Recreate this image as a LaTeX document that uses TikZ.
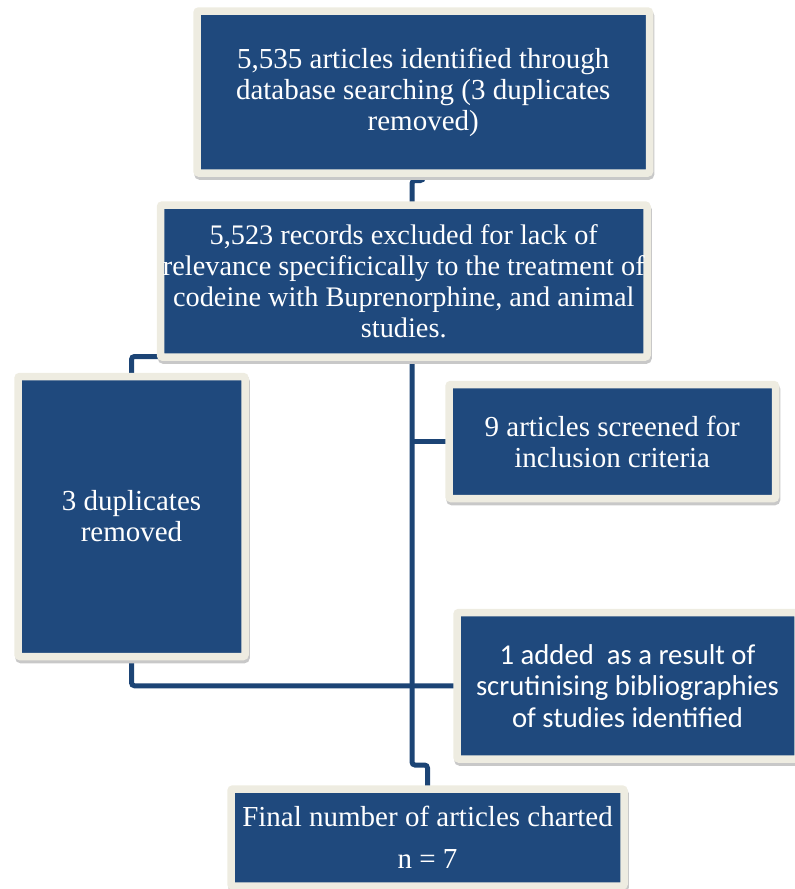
\documentclass[tikz,border=0pt]{standalone}
\usepackage{fontspec}
\setmainfont{Liberation Serif}
\newfontfamily\calib{Carlito}
\usetikzlibrary{shadows,backgrounds,calc}
\definecolor{boxblue}{HTML}{1F497D}
\definecolor{linkblue}{HTML}{1C4475}
\definecolor{cream}{HTML}{EEECE1}
\definecolor{shade}{HTML}{C8C8C8}
\tikzset{
  stagebox/.style={draw=cream, line width=7.5pt, fill=boxblue, rounded corners=2pt,
    text=white, align=center, inner sep=0pt, outer sep=0pt,
    general shadow={shadow xshift=1pt, shadow yshift=-3pt, fill=shade, draw=shade},
    font=\rmfamily\fontsize{29}{31}\selectfont},
  conn/.style={draw=linkblue, line width=5pt, rounded corners=3pt}
}
\begin{document}
\begin{tikzpicture}[x=1pt,y=-1pt]
\useasboundingbox (0,0) rectangle (795,889);
\node[stagebox, minimum width=452.5pt, minimum height=162pt] (b1) at (423.25,92)
  {5,535 articles identified through\\[0pt]database searching (3 duplicates\\[0pt]removed)};
\node[stagebox, minimum width=486.5pt, minimum height=152pt, font=\rmfamily\fontsize{28.3}{31}\selectfont] (b2) at (403.75,281)
  {5,523 records excluded for lack of\\[0pt]relevance specificically to the treatment of\\[0pt]codeine with Buprenorphine, and animal\\[0pt]studies.};
\node[stagebox, minimum width=227pt, minimum height=280pt] (b3) at (131.5,516.5)
  {3 duplicates\\[0pt]removed};
\node[stagebox, minimum width=326.5pt, minimum height=114pt] (b4) at (612.25,441.5)
  {9 articles screened for\\[0pt]inclusion criteria};
\node[stagebox, minimum width=341pt, minimum height=146.5pt, font=\calib\fontsize{28.7}{31.5}\selectfont] (b5) at (627.5,685.75)
  {1 added\ \ as a result of\\scrutinising bibliographies\\of studies identified};
\node[stagebox, minimum width=393pt, minimum height=97pt] (b6) at (427.5,837.5)
  {Final number of articles charted\\[11pt]n = 7};
\coordinate (j1) at (412,180.5);
\coordinate (m) at (412,765);
\coordinate (c) at (131.5,356.5);
\begin{scope}[on background layer]
\draw[conn] (b1.south) -- (b1.south |- j1) -- (j1) -- (j1 |- b2.north);
\draw[conn] (b2.south -| m) -- (m) -| (b6.north);
\draw[conn] (c -| b2.west) -- (c) -- (b3.north);
\draw[conn] (b3.south) |- (b5.west);
\draw[conn] (b4.west -| m) -- (b4.west);
\end{scope}
\end{tikzpicture}
\end{document}
